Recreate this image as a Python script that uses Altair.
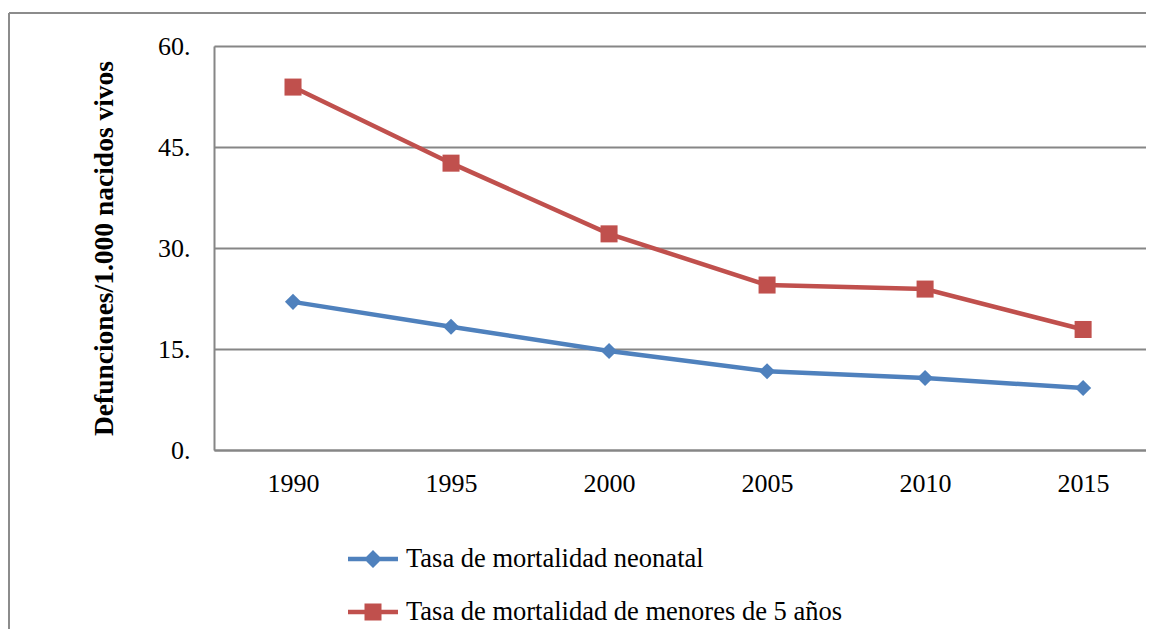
import altair as alt
import pandas as pd

years = [1990, 1995, 2000, 2005, 2010, 2015]
neonatal = [22.0, 18.3, 14.7, 11.7, 10.7, 9.2]
menores5 = [53.9, 42.6, 32.1, 24.5, 23.9, 17.9]
series = ["Tasa de mortalidad neonatal", "Tasa de mortalidad de menores de 5 años"]
colors = ["#4F81BD", "#C0504D"]
y_ticks = [0, 15, 30, 45, 60]

df = pd.DataFrame({
    "anio": years * 2,
    "valor": neonatal + menores5,
    "serie": [series[0]] * len(years) + [series[1]] * len(years),
})

FONT = "Liberation Serif"
GRAY = "#868686"

legend_paths = [
    "M-1,-0.09L1,-0.09L1,0.09L-1,0.09Z M0,-0.36L0.36,0L0,0.36L-0.36,0Z",
    "M-1,-0.09L1,-0.09L1,0.09L-1,0.09Z M-0.34,-0.34L0.34,-0.34L0.34,0.34L-0.34,0.34Z",
]

x_enc = alt.X(
    "anio:Q",
    scale=alt.Scale(domain=[1987.5, 2016.99], nice=False, zero=False),
    axis=alt.Axis(values=years, format="d", title=None, ticks=False, grid=False,
                  labelPadding=20, domainColor=GRAY, domainWidth=2,
                  labelFontSize=26, labelColor="black", labelFont=FONT),
)
y_enc = alt.Y(
    "valor:Q",
    scale=alt.Scale(domain=[0, 60], nice=False),
    axis=alt.Axis(values=y_ticks, labelExpr="datum.value + '.'",
                  title="Defunciones/1.000 nacidos vivos", ticks=False,
                  grid=True, gridColor=GRAY, gridWidth=2,
                  domainColor=GRAY, domainWidth=2, labelPadding=24,
                  labelFontSize=26, labelColor="black", labelFont=FONT,
                  titleFont=FONT, titleFontSize=27.5, titleFontWeight="bold",
                  titleColor="black", titleX=-110, titleY=202, titleAngle=270,
                  titleAlign="center", titleBaseline="middle"),
)
color_scale = alt.Scale(domain=series, range=colors)

legend_props = dict(
    title=None, orient="none", legendX=134, legendY=488, direction="vertical",
    symbolSize=2500, symbolOpacity=1, symbolStrokeWidth=0,
    labelFont=FONT, labelFontSize=26.5, labelColor="black", labelOffset=8,
    rowPadding=14, padding=0, labelLimit=800,
)

lines = alt.Chart(df).mark_line(strokeWidth=4.5).encode(
    x=x_enc, y=y_enc,
    color=alt.Color("serie:N", scale=color_scale, legend=None),
)
points = alt.Chart(df).mark_point(filled=True, opacity=1, strokeWidth=0).encode(
    x=x_enc, y=y_enc,
    color=alt.Color("serie:N", scale=color_scale, legend=None),
    shape=alt.Shape("serie:N", scale=alt.Scale(domain=series, range=["diamond", "square"]), legend=None),
    size=alt.Size("serie:N", scale=alt.Scale(domain=series, range=[260, 290]), legend=None),
)
legend_layer = alt.Chart(df).mark_point(filled=True, opacity=0, strokeWidth=0, size=2500).encode(
    x=x_enc, y=y_enc,
    color=alt.Color("serie:N", scale=color_scale, legend=alt.Legend(**legend_props)),
    shape=alt.Shape("serie:N", scale=alt.Scale(domain=series, range=legend_paths),
                    legend=alt.Legend(**legend_props)),
)

frame = pd.DataFrame({"k": [0]})
border_left = alt.Chart(frame).mark_rule(color="#8c8c8c", strokeWidth=2).encode(
    x=alt.value(-205), y=alt.value(-33), y2=alt.value(700))
border_top = alt.Chart(frame).mark_rule(color="#8c8c8c", strokeWidth=2).encode(
    x=alt.value(-205), x2=alt.value(1000), y=alt.value(-33))

chart = alt.layer(border_left, border_top, lines, points, legend_layer).resolve_scale(
    color="independent", shape="independent", size="independent"
).properties(
    width=932, height=404,
    autosize=alt.AutoSizeParams(type="none"),
    padding={"left": 206, "top": 38, "right": 0, "bottom": 179},
).configure_view(stroke=None).configure(background="white").configure_legend(
    labelFont=FONT, labelFontSize=26.5, labelColor="black"
).configure_axis(labelFont=FONT, titleFont=FONT)

chart.save("out.html", embed_options={"renderer": "svg", "actions": False})
